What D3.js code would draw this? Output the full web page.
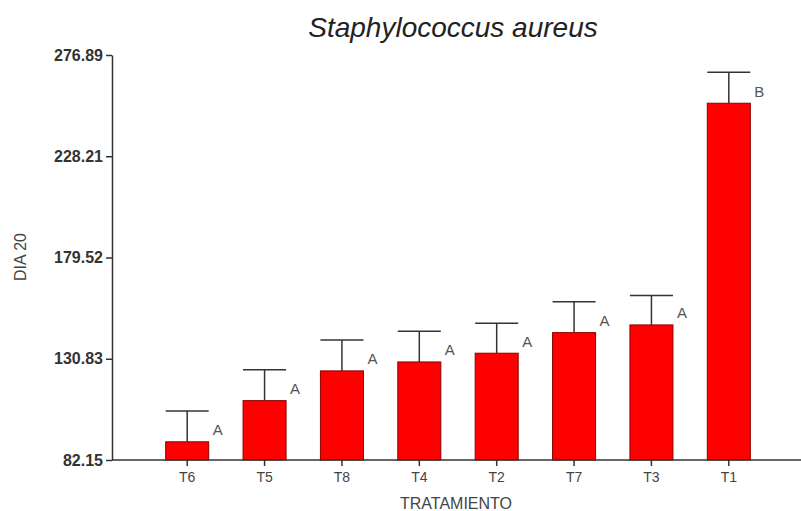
<!DOCTYPE html>
<html>
<head>
<meta charset="utf-8">
<script src="https://cdn.jsdelivr.net/npm/d3@7"></script>
<style>
  html, body { margin: 0; padding: 0; background: #fff; }
  svg { display: block; font-family: "Liberation Sans", Arial, sans-serif; }
</style>
</head>
<body>
<svg id="chart" width="801" height="511"></svg>
<script>
const categories = ["T6", "T5", "T8", "T4", "T2", "T7", "T3", "T1"];
const means = [90.9, 110.7, 125.0, 129.3, 133.5, 143.4, 147.1, 253.7];
const errors = [14.8, 14.8, 14.9, 14.7, 14.4, 14.9, 14.1, 14.9];
const letters = ["A", "A", "A", "A", "A", "A", "A", "B"];
const yTicks = [82.15, 130.83, 179.52, 228.21, 276.89];

const svg = d3.select("#chart");
const axisX0 = 112, axisY0 = 460;

const x = d3.scaleBand().domain(categories).range([148.5, 767.5])
  .paddingInner(0.444).paddingOuter(0.222);
const y = d3.scaleLinear().domain([82.15, 276.89]).range([460, 55]);

const data = categories.map((c, i) => ({ c, m: means[i], e: errors[i], l: letters[i] }));

// Title
svg.append("text").attr("x", 453).attr("y", 37).attr("text-anchor", "middle")
  .attr("font-size", 28).attr("font-style", "italic").attr("fill", "#222")
  .text("Staphylococcus aureus");

// Bars
svg.append("g").selectAll("rect").data(data).join("rect")
  .attr("x", d => x(d.c)).attr("width", x.bandwidth())
  .attr("y", d => y(d.m)).attr("height", d => y(82.15) - y(d.m))
  .attr("fill", "#ff0000").attr("stroke", "#8a0000").attr("stroke-width", 1);

// Error bars
const eg = svg.append("g").attr("stroke", "#333").attr("stroke-width", 1.5);
eg.selectAll("line.v").data(data).join("line").attr("class", "v")
  .attr("x1", d => x(d.c) + x.bandwidth() / 2).attr("x2", d => x(d.c) + x.bandwidth() / 2)
  .attr("y1", d => y(d.m)).attr("y2", d => y(d.m + d.e));
eg.selectAll("line.h").data(data).join("line").attr("class", "h")
  .attr("x1", d => x(d.c)).attr("x2", d => x(d.c) + x.bandwidth())
  .attr("y1", d => y(d.m + d.e)).attr("y2", d => y(d.m + d.e));

// Letters
svg.append("g").selectAll("text").data(data).join("text")
  .attr("x", d => x(d.c) + x.bandwidth() + 4).attr("y", d => y(d.m) - 6.5)
  .attr("font-size", 15).attr("fill", "#555").text(d => d.l);

// Y axis
const yAxis = svg.append("g").attr("transform", `translate(${axisX0},0)`)
  .call(d3.axisLeft(y).tickValues(yTicks).tickFormat(d3.format(".2f")).tickSize(6).tickPadding(3).tickSizeOuter(0));
yAxis.select(".domain").attr("stroke", "#333").attr("stroke-width", 1.5);
yAxis.selectAll(".tick line").attr("stroke", "#333").attr("stroke-width", 1.5);
yAxis.selectAll(".tick text").attr("font-size", 16).attr("font-weight", "bold")
  .attr("fill", "#333").attr("font-family", "'Liberation Sans', Arial, sans-serif");

// X axis
const xAxis = svg.append("g").attr("transform", `translate(0,${axisY0})`)
  .call(d3.axisBottom(x).tickSize(6).tickPadding(6).tickSizeOuter(0));
xAxis.select(".domain").attr("d", `M${axisX0},0H801`).attr("stroke", "#333").attr("stroke-width", 1.5);
xAxis.selectAll(".tick line").attr("stroke", "#333").attr("stroke-width", 1.5);
xAxis.selectAll(".tick text").attr("font-size", 14).attr("fill", "#444")
  .attr("font-family", "'Liberation Sans', Arial, sans-serif");

// Axis titles
svg.append("text").attr("x", 456).attr("y", 509).attr("text-anchor", "middle")
  .attr("font-size", 16).attr("fill", "#444").text("TRATAMIENTO");
svg.append("text").attr("transform", "translate(26,257) rotate(-90)").attr("text-anchor", "middle")
  .attr("font-size", 16).attr("fill", "#444").text("DIA 20");
</script>
</body>
</html>
